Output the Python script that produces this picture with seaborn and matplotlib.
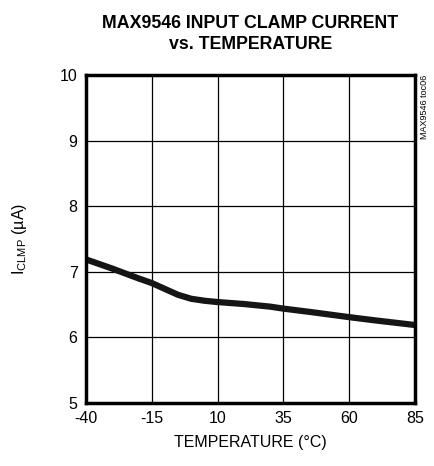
import matplotlib
matplotlib.use('Agg')
import matplotlib.pyplot as plt
import seaborn as sns
import pandas as pd

# values
temperature = [-40, -30, -20, -15, -10, -5, 0, 5, 10, 20, 30, 35, 45, 60, 70, 85]
clamp_current = [7.19, 7.05, 6.90, 6.83, 6.74, 6.65, 6.59, 6.56, 6.54, 6.51, 6.47, 6.44, 6.39, 6.31, 6.26, 6.19]
x_ticks = [-40, -15, 10, 35, 60, 85]
y_ticks = [5, 6, 7, 8, 9, 10]

sns.set_theme(style="white")
plt.rcParams['font.family'] = ['Liberation Sans Narrow', 'Liberation Sans', 'DejaVu Sans']
plt.rcParams['mathtext.fontset'] = 'custom'
plt.rcParams['mathtext.rm'] = 'Liberation Sans'
plt.rcParams['axes.unicode_minus'] = False

df = pd.DataFrame({'temp': temperature, 'iclmp': clamp_current})

fig = plt.figure(figsize=(4.34, 4.66), dpi=100)
ax = fig.add_axes([0.198, 0.135, 0.758, 0.704])

sns.lineplot(data=df, x='temp', y='iclmp', ax=ax, color='#151515', linewidth=4.5)

ax.set_xlim(-40, 85)
ax.set_ylim(5, 10)
ax.set_xticks(x_ticks)
ax.set_yticks(y_ticks)
ax.grid(True, color='black', linewidth=0.9)
ax.tick_params(length=0, labelsize=11.5, colors='black', pad=6)
for s in ax.spines.values():
    s.set_color('black')
    s.set_linewidth(2.5)

ax.set_xlabel('TEMPERATURE (°C)', fontsize=11.5, color='black', labelpad=6)
ax.set_ylabel(r'I$_{\mathregular{CLMP}}$ (µA)', fontsize=11.5, color='black', labelpad=22)

fig.suptitle('MAX9546 INPUT CLAMP CURRENT\nvs. TEMPERATURE', x=0.577, y=0.968,
             fontsize=12.8, fontweight='bold', color='black', linespacing=1.3)

fig.text(0.978, 0.839, 'MAX9546 toc06', rotation=90, fontsize=6.5, ha='center', va='top', color='black')

fig.savefig('out.png', dpi=100)
